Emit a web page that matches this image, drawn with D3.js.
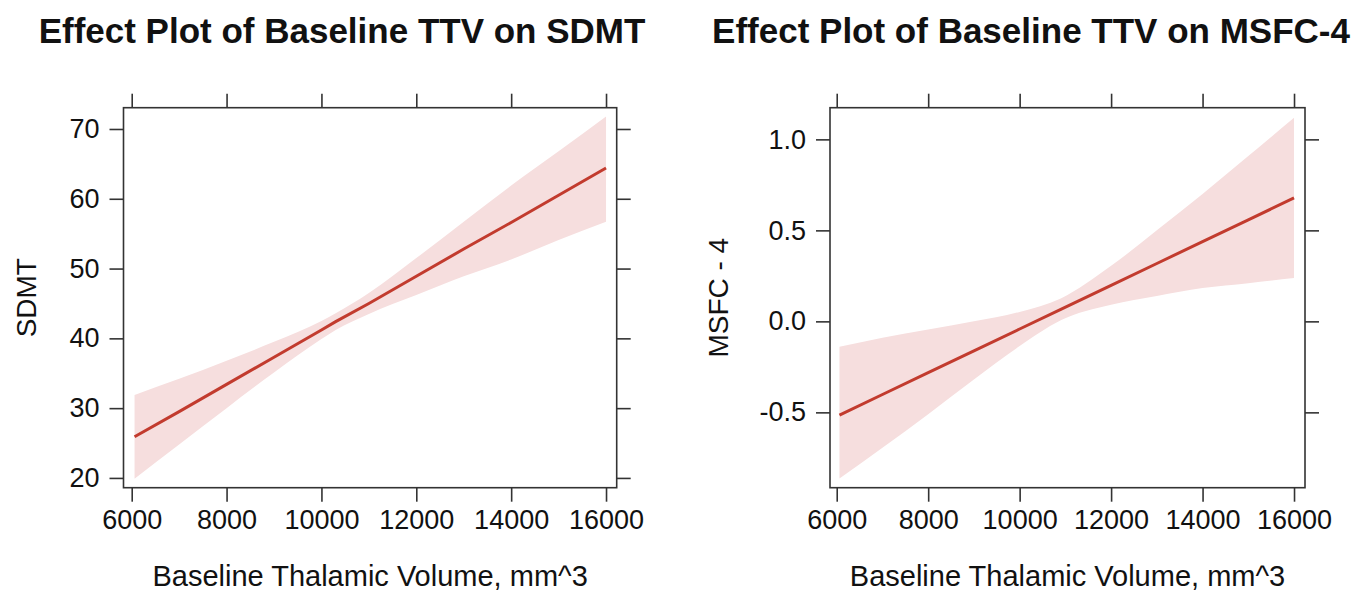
<!DOCTYPE html>
<html>
<head>
<meta charset="utf-8">
<script src="https://cdn.jsdelivr.net/npm/d3@7"></script>
<style>
  body { margin: 0; background: #fff; }
  svg text { font-family: "Liberation Sans", Arial, sans-serif; fill: #111; }
</style>
</head>
<body>
<div id="app"></div>
<script>
// values
const ttv = [6060, 7000, 8000, 9000, 10000, 10300, 11000, 12000, 13000, 14000, 15000, 16000];
const sdmtFit   = [25.9, 29.5, 33.4, 37.3, 41.2, 42.4, 45.0, 48.9, 52.8, 56.6, 60.5, 64.4];
const sdmtLower = [19.9, 24.8, 30.0, 35.1, 39.9, 41.2, 43.5, 46.2, 48.9, 51.3, 54.1, 56.7];
const sdmtUpper = [31.9, 34.2, 36.8, 39.5, 42.5, 43.6, 46.5, 51.5, 56.7, 61.9, 66.8, 71.8];

const ttv2 = [6060, 7000, 8000, 9000, 10000, 10900, 12000, 13000, 14000, 15000, 16000];
const msfcFit   = [-0.515, -0.402, -0.282, -0.162, -0.042, 0.066, 0.198, 0.318, 0.438, 0.558, 0.678];
const msfcLower = [-0.863, -0.695, -0.510, -0.320, -0.136, 0.006, 0.091, 0.140, 0.183, 0.210, 0.238];
const msfcUpper = [-0.140, -0.090, -0.045, 0.000, 0.052, 0.126, 0.305, 0.500, 0.700, 0.908, 1.119];

const xTicks = [6000, 8000, 10000, 12000, 14000, 16000];
const sdmtTicks = [20, 30, 40, 50, 60, 70];
const msfcTicks = [-0.5, 0.0, 0.5, 1.0];

const width = 1368;
const height = 593;
const svg = d3.select('#app').append('svg')
  .attr('width', width)
  .attr('height', height);

const panels = [
  {
    title: 'Effect Plot of Baseline TTV on SDMT', ylab: 'SDMT',
    cx: 342, ylabX: 26,
    x: d3.scaleLinear([5827, 16225], [123.5, 616.7]),
    y: d3.scaleLinear([18.6, 73.05], [487.7, 107.7]),
    xs: ttv, fit: sdmtFit, lo: sdmtLower, hi: sdmtUpper,
    yTicks: sdmtTicks, fmt: d => String(d)
  },
  {
    title: 'Effect Plot of Baseline TTV on MSFC-4', ylab: 'MSFC - 4',
    cx: 1031, ylabX: 718,
    x: d3.scaleLinear([5853, 16240], [830, 1305]),
    y: d3.scaleLinear([-0.914, 1.174], [487.7, 107.7]),
    xs: ttv2, fit: msfcFit, lo: msfcLower, hi: msfcUpper,
    yTicks: msfcTicks, fmt: d => d.toFixed(1)
  }
];

const tickLen = 14;
const tickFont = '27px';

panels.forEach(p => {
  const g = svg.append('g');
  const [x0, x1] = p.x.range();
  const [yb, yt] = p.y.range();
  const pts = p.xs.map((v, i) => ({ x: v, fit: p.fit[i], lo: p.lo[i], hi: p.hi[i] }));

  // confidence band
  g.append('path')
    .datum(pts)
    .attr('fill', '#f6dede')
    .attr('d', d3.area().curve(d3.curveMonotoneX)
      .x(d => p.x(d.x)).y0(d => p.y(d.lo)).y1(d => p.y(d.hi)));

  // fitted line
  g.append('path')
    .datum(pts)
    .attr('fill', 'none')
    .attr('stroke', '#c23b2e')
    .attr('stroke-width', 3)
    .attr('d', d3.line().x(d => p.x(d.x)).y(d => p.y(d.fit)));

  // axes on all four sides, labels only bottom / left
  const bottom = g.append('g').attr('transform', `translate(0,${yb})`)
    .call(d3.axisBottom(p.x).tickValues(xTicks).tickSize(tickLen).tickPadding(8)
      .tickFormat(d => String(d)).tickSizeOuter(0));
  g.append('g').attr('transform', `translate(0,${yt})`)
    .call(d3.axisTop(p.x).tickValues(xTicks).tickSize(tickLen).tickFormat('').tickSizeOuter(0));
  const left = g.append('g').attr('transform', `translate(${x0},0)`)
    .call(d3.axisLeft(p.y).tickValues(p.yTicks).tickSize(tickLen).tickPadding(10).tickFormat(p.fmt).tickSizeOuter(0));
  g.append('g').attr('transform', `translate(${x1},0)`)
    .call(d3.axisRight(p.y).tickValues(p.yTicks).tickSize(tickLen).tickFormat('').tickSizeOuter(0));

  g.selectAll('.domain').remove();
  g.selectAll('.tick line').attr('stroke', '#333').attr('stroke-width', 1.6);
  bottom.selectAll('text').attr('font-size', tickFont).attr('font-family', null).style('fill', '#111');
  left.selectAll('text').attr('font-size', tickFont).attr('font-family', null).style('fill', '#111');

  // box
  g.append('rect')
    .attr('x', x0).attr('y', yt)
    .attr('width', x1 - x0).attr('height', yb - yt)
    .attr('fill', 'none').attr('stroke', '#333').attr('stroke-width', 1.6);

  // titles and labels
  svg.append('text')
    .attr('x', p.cx).attr('y', 43)
    .attr('text-anchor', 'middle')
    .attr('font-size', 35).attr('font-weight', 'bold')
    .text(p.title);

  svg.append('text')
    .attr('x', (x0 + x1) / 2).attr('y', 586)
    .attr('text-anchor', 'middle')
    .attr('font-size', 29)
    .text('Baseline Thalamic Volume, mm^3');

  svg.append('text')
    .attr('transform', `translate(${p.ylabX + 10},${(yb + yt) / 2}) rotate(-90)`)
    .attr('text-anchor', 'middle')
    .attr('font-size', 28)
    .text(p.ylab);
});
</script>
</body>
</html>
